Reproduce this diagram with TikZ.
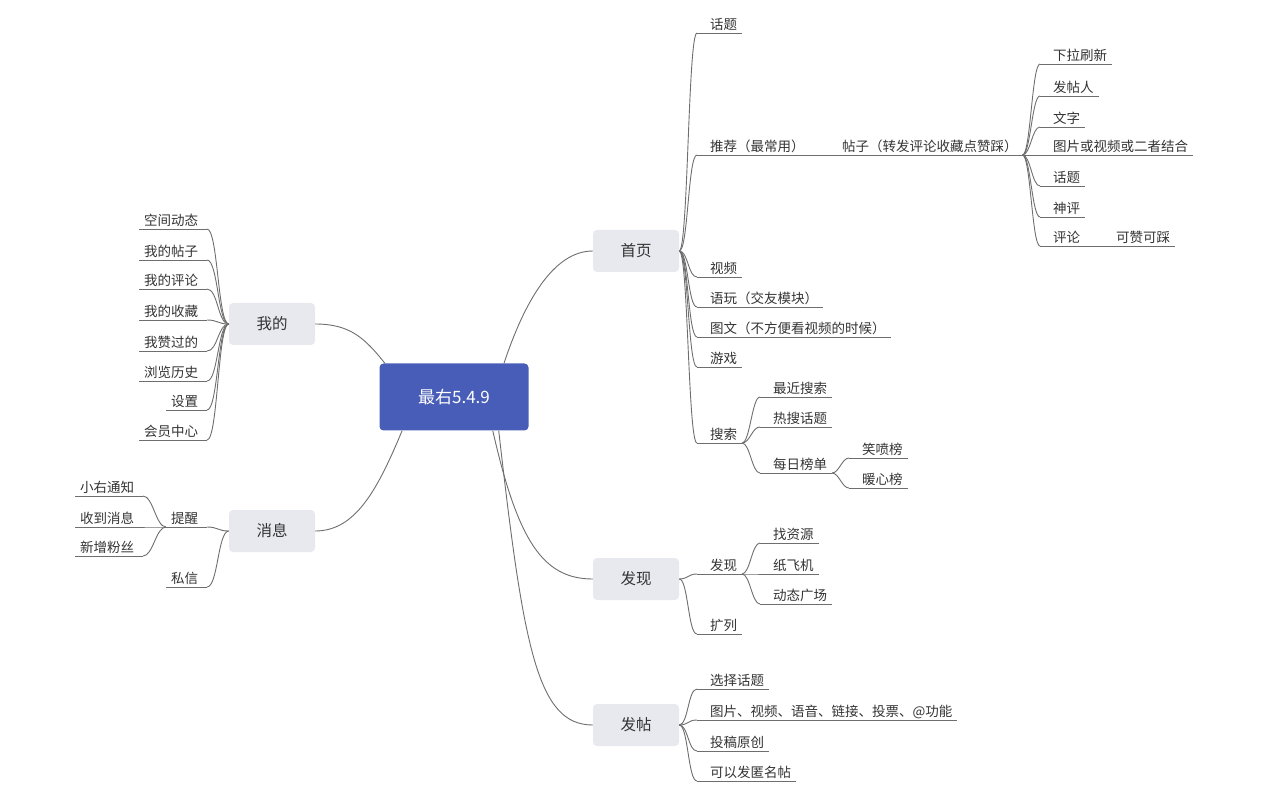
\documentclass[tikz,border=0pt]{standalone}
\usepackage{fontspec}
\newfontfamily\cjk{Noto Sans CJK SC}
\definecolor{rootblue}{RGB}{72,93,184}
\definecolor{topicgray}{RGB}{232,233,239}
\definecolor{linegray}{RGB}{110,110,110}
\definecolor{textgray}{RGB}{51,51,51}
\tikzset{
  mm/.style={x=1pt,y=-1pt},
  central/.style={fill=rootblue,text=white,rounded corners=4pt,minimum width=149pt,minimum height=67pt,font=\cjk\fontsize{17}{20}\selectfont},
  topic/.style={fill=topicgray,text=textgray,rounded corners=4pt,minimum width=86pt,minimum height=42pt,font=\cjk\fontsize{15.5}{18}\selectfont},
  leafbase/.style={text=textgray,font=\cjk\fontsize{13.5}{16}\selectfont,inner xsep=0pt,inner ysep=0pt,outer sep=0pt,text height=11pt,text depth=3.5pt},
  leaf/.style={leafbase,anchor=south west,execute at begin node={\hspace*{13pt}},execute at end node={\hspace*{5pt}}},
  leafl/.style={leafbase,anchor=south east,execute at begin node={\hspace*{5pt}},execute at end node={\hspace*{9pt}}},
  link/.style={draw=linegray,line width=0.9pt},
}

\begin{document}
\begin{tikzpicture}[mm]
  \useasboundingbox (0,0) rectangle (1264,791);

  % centre and main topics
  \node[central] (root) at (454,397) {最右5.4.9};
  \node[topic] (home) at (636,251) {首页};
  \node[topic] (mine) at (272,324) {我的};
  \node[topic] (msg)  at (272,531) {消息};
  \node[topic] (disc) at (636,579) {发现};
  \node[topic] (post) at (636,725) {发帖};

  % 首页
  \node[leaf] (topic)  at (697,33)  {话题};
  \node[leaf] (recom)  at (697,155) {推荐（最常用）};
  \node[leaf] (tiezi)  at (829,155) {帖子（转发评论收藏点赞踩）};
  \node[leaf] (video)  at (697,277) {视频};
  \node[leaf] (yuwan)  at (697,307) {语玩（交友模块）};
  \node[leaf] (tuwen)  at (697,337) {图文（不方便看视频的时候）};
  \node[leaf] (game)   at (697,367) {游戏};
  \node[leaf] (search) at (697,443) {搜索};
  \node[leaf] (recent) at (760,397) {最近搜索};
  \node[leaf] (hot)    at (760,427) {热搜话题};
  \node[leaf] (daily)  at (760,473) {每日榜单};
  \node[leaf] (laugh)  at (849,458) {笑喷榜};
  \node[leaf] (warm)   at (849,488) {暖心榜};

  % 帖子
  \node[leaf] (pull)     at (1040,64)  {下拉刷新};
  \node[leaf] (poster)   at (1040,96)  {发帖人};
  \node[leaf] (words)    at (1040,127) {文字};
  \node[leaf] (media)    at (1040,155) {图片或视频或二者结合};
  \node[leaf] (ptopic)   at (1040,186) {话题};
  \node[leaf] (shenping) at (1040,217) {神评};
  \node[leaf] (comment)  at (1040,246) {评论};
  \node[leaf] (vote)     at (1103,246) {可赞可踩};

  % 我的
  \node[leafl] (space)   at (207,229) {空间动态};
  \node[leafl] (myposts) at (207,260) {我的帖子};
  \node[leafl] (mycomm)  at (207,289) {我的评论};
  \node[leafl] (myfav)   at (207,320) {我的收藏};
  \node[leafl] (myliked) at (207,351) {我赞过的};
  \node[leafl] (history) at (207,381) {浏览历史};
  \node[leafl] (setting) at (207,410) {设置};
  \node[leafl] (vip)     at (207,440) {会员中心};

  % 消息
  \node[leafl] (remind) at (207,527) {提醒};
  \node[leafl] (dm)     at (207,587) {私信};
  \node[leafl] (notice) at (143,496) {小右通知};
  \node[leafl] (recv)   at (143,527) {收到消息};
  \node[leafl] (fans)   at (143,556) {新增粉丝};

  % 发现
  \node[leaf] (find)     at (697,574) {发现};
  \node[leaf] (kuolie)   at (697,634) {扩列};
  \node[leaf] (resource) at (760,543) {找资源};
  \node[leaf] (plane)    at (760,574) {纸飞机};
  \node[leaf] (square)   at (760,604) {动态广场};

  % 发帖
  \node[leaf] (choose)   at (697,689) {选择话题};
  \node[leaf] (attach)   at (697,720) {图片、视频、语音、链接、投票、@功能};
  \node[leaf] (original) at (697,751) {投稿原创};
  \node[leaf] (anon)     at (697,781) {可以发匿名帖};

  % underlines
  \foreach \n in {topic,recom,tiezi,video,yuwan,tuwen,game,search,recent,hot,daily,laugh,warm,
                  pull,poster,words,media,ptopic,shenping,comment,vote,
                  space,myposts,mycomm,myfav,myliked,history,setting,vip,
                  remind,dm,notice,recv,fans,
                  find,kuolie,resource,plane,square,choose,attach,original,anon}
    \draw[link] (\n.south west) -- (\n.south east);

  % centre to main topics
  \draw[link] (root.34)  .. controls +(20,-60) and +(-40,0) .. (home.west);
  \draw[link] (root.154) .. controls +(-20,-25) and +(35,0) .. (mine.east);
  \draw[link] (root.213) .. controls +(-25,60) and +(40,0) .. (msg.east);
  \draw[link] (root.319) .. controls +(25,110) and +(-50,0) .. (disc.west);
  \draw[link] (root.323) .. controls +(25,220) and +(-55,0) .. (post.west);

  % branches, right side
  \foreach \c in {topic,recom,video,yuwan,tuwen,game,search}
    \draw[link] (home.east) .. controls +(9,0) and +(-9,0) .. (\c.south west);
  \draw[link] (recom.south east) -- (tiezi.south west);
  \foreach \c in {recent,hot,daily}
    \draw[link] (search.south east) .. controls +(8,0) and +(-8,0) .. (\c.south west);
  \foreach \c in {laugh,warm}
    \draw[link] (daily.south east) .. controls +(7,0) and +(-7,0) .. (\c.south west);
  \foreach \c in {pull,poster,words,media,ptopic,shenping,comment}
    \draw[link] (tiezi.south east) .. controls +(8,0) and +(-8,0) .. (\c.south west);
  \draw[link] (comment.south east) -- (vote.south west);
  \foreach \c in {find,kuolie}
    \draw[link] (disc.east) .. controls +(9,0) and +(-9,0) .. (\c.south west);
  \foreach \c in {resource,plane,square}
    \draw[link] (find.south east) .. controls +(8,0) and +(-8,0) .. (\c.south west);
  \foreach \c in {choose,attach,original,anon}
    \draw[link] (post.east) .. controls +(9,0) and +(-9,0) .. (\c.south west);

  % branches, left side
  \foreach \c in {space,myposts,mycomm,myfav,myliked,history,setting,vip}
    \draw[link] (mine.west) .. controls +(-11,0) and +(11,0) .. (\c.south east);
  \foreach \c in {remind,dm}
    \draw[link] (msg.west) .. controls +(-11,0) and +(11,0) .. (\c.south east);
  \foreach \c in {notice,recv,fans}
    \draw[link] (remind.south west) .. controls +(-10,0) and +(10,0) .. (\c.south east);
\end{tikzpicture}
\end{document}
